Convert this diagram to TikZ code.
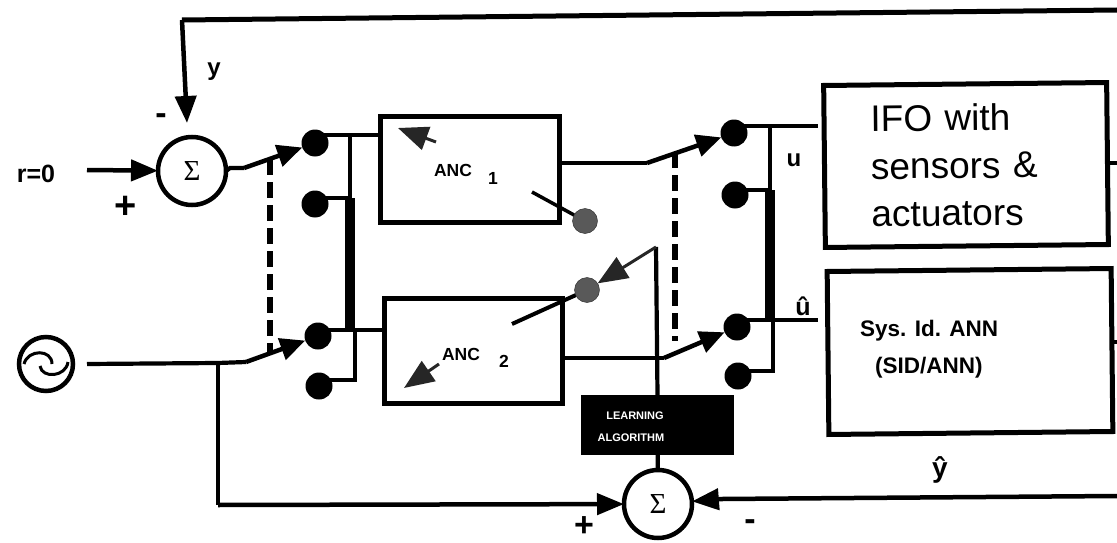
\documentclass[tikz,border=0pt]{standalone}
\usepackage{fontspec}
\setmainfont{Liberation Sans}
\newfontfamily\sumfont{Liberation Serif}
\usetikzlibrary{arrows.meta}

\begin{document}
\begin{tikzpicture}[x=1pt,y=-1pt]
            \tikzset{
                wire/.style={line width=4.2pt},
                bar/.style={line width=10pt},
                gang/.style={line width=6pt,dash pattern=on 16pt off 7pt},
                arm/.style={line width=4.5pt,-{Triangle[length=25pt,width=22pt]}},
                inlet/.style={line width=4.5pt,-{Triangle[length=27pt,width=21pt]}},
                tune/.style={line width=3pt,black!85,-{Triangle[length=30pt,width=24pt]}},
                sumnode/.style={circle,draw,line width=4.5pt,minimum size=68pt,inner sep=0pt,outer sep=0pt,font=\fontsize{29}{29}\sumfont},
                dot/.style={circle,fill=black,minimum size=27pt,inner sep=0pt,outer sep=0pt},
                graydot/.style={circle,fill=black!65,draw=black!85,minimum size=25pt,inner sep=0pt,outer sep=0pt},
                ancbox/.style={draw,line width=5pt,inner sep=0pt,outer sep=0pt},
                plantbox/.style={draw,line width=5pt,inner sep=0pt,outer sep=0pt,rotate=0.6},
                tag/.style={font=\fontsize{24}{24}\selectfont\bfseries,inner sep=0pt},
                small/.style={font=\fontsize{17.5}{17.5}\selectfont\bfseries,inner sep=0pt},
            }
            \def\sumsign{\raisebox{-5pt}{Σ}}
            \useasboundingbox (0,0) rectangle (1117,543);
            % blocks
            \node[sumnode] (sumA) at (192,171) {\sumsign};
            \node[sumnode] (sumB) at (658,504) {\sumsign};
            \node[circle,draw,line width=4.5pt,minimum size=54pt,inner sep=0pt] (source) at (46,364) {};
            \node[ancbox,minimum width=179pt,minimum height=106pt] (ancA) at (470,169) {};
            \node[ancbox,minimum width=178pt,minimum height=105pt] (ancB) at (473,350.5) {};
            \node[plantbox,minimum width=283pt,minimum height=162pt,text width=190pt,align=left,font=\fontsize{37}{47.5}\selectfont] (ifo) at (966,165) {IFO with\\sensors \&\\actuators};
            \node[plantbox,minimum width=284pt,minimum height=163pt] (sid) at (970,351.5) {};
            \node[fill=black,minimum width=153pt,minimum height=60pt,inner sep=0pt,outer sep=0pt] (learn) at (657.5,425) {};
            % switch contacts
            \node[dot] (dotA) at (315,143) {};
            \node[dot] (dotB) at (315,204) {};
            \node[dot] (dotC) at (318,336) {};
            \node[dot] (dotD) at (319,386) {};
            \node[dot] (dotE) at (734,133) {};
            \node[dot] (dotF) at (735,195) {};
            \node[dot] (dotG) at (737,327) {};
            \node[dot] (dotH) at (738,376) {};
            \node[graydot] (tuneA) at (585,221) {};
            \node[graydot] (tuneB) at (587,290) {};
            % free ends and corners
            \coordinate (topR) at (1117,10);
            \coordinate (topL) at (182,20);
            \coordinate (tipA) at (187,123);
            \coordinate (inR) at (87,170);
            \coordinate (armAa) at (244,168);
            \coordinate (armAb) at (230,168);
            \coordinate (armB) at (246,362);
            \coordinate (armC) at (647,163);
            \coordinate (armD) at (664,358);
            \coordinate (gangAa) at (270,159);
            \coordinate (gangAb) at (270,352);
            \coordinate (gangBa) at (675,152);
            \coordinate (gangBb) at (675,341);
            \coordinate (tapA) at (315,135);
            \coordinate (tapB) at (315,198);
            \coordinate (tapC) at (318,330);
            \coordinate (tapD) at (319,380);
            \coordinate (tapE) at (734,126);
            \coordinate (tapF) at (735,190);
            \coordinate (tapG) at (737,320);
            \coordinate (tapH) at (738,371);
            \coordinate (riserAa) at (350,135);
            \coordinate (riserAb) at (350,198);
            \coordinate (riserAc) at (350,328);
            \coordinate (riserAd) at (355,330);
            \coordinate (riserAe) at (355,380);
            \coordinate (riserBa) at (770,126);
            \coordinate (riserBb) at (770,190);
            \coordinate (riserBc) at (770,320);
            \coordinate (riserBd) at (773,320);
            \coordinate (riserBe) at (773,371);
            \coordinate (branch) at (218,363);
            \coordinate (branchB) at (218,505);
            \coordinate (fedB) at (722,499);
            \coordinate (fedR) at (1117,496);
            \coordinate (fedTip) at (1117,342);
            \coordinate (ifoTap) at (1117,163);
            \coordinate (kneeC) at (656,247);
            \coordinate (tailA) at (532,192);
            \coordinate (tailB) at (512,324);
            \coordinate (headAa) at (436,142);
            \coordinate (headAb) at (398,128);
            \coordinate (headBa) at (439,364);
            \coordinate (headBb) at (404,388);
            \coordinate (ifoOut) at (818,126);
            \coordinate (sidOut) at (818,320);
            % feedback
            \draw[line width=5pt] (topR) -- (topL);
            \draw[inlet] (topL) -- (tipA);
            \draw[inlet] (inR) -- (sumA);
            \draw[wire] (ifo.east |- ifoTap) -- (ifoTap);
            \draw[wire] (sid.east |- fedTip) -- (fedTip);
            \draw[line width=4.5pt] (fedR) -- (fedB);
            \draw[inlet] (fedB) -- (sumB);
            % signal paths
            \draw[wire] (sumA.east) -- (armAb) -- (armAa);
            \draw[arm] (armAa) -- (dotA);
            \draw[wire] (tapA) -- (ancA.west |- tapA);
            \draw[wire] (riserAa) -- (riserAb);
            \draw[wire] (tapB) -- (riserAb);
            \draw[bar] (riserAb) -- (riserAc);
            \draw[wire] (tapC) -- (ancB.west |- tapC);
            \draw[wire] (tapD) -- (riserAe) -- (riserAd);
            \draw[wire] (source.east -| inR) -- (branch) -- (armB);
            \draw[arm] (armB) -- (dotC);
            \draw[wire] (branch) -- (branchB);
            \draw[inlet] (branchB) -- (sumB);
            \draw[wire] (ancA.east |- armC) -- (armC);
            \draw[arm] (armC) -- (dotE);
            \draw[wire] (ancB.east |- armD) -- (armD);
            \draw[arm] (armD) -- (dotG);
            \draw[wire] (tapE) -- (ifoOut);
            \draw[wire] (riserBa) -- (riserBb);
            \draw[wire] (tapF) -- (riserBb);
            \draw[bar] (riserBb) -- (riserBc);
            \draw[wire] (tapG) -- (sidOut);
            \draw[wire] (tapH) -- (riserBe) -- (riserBd);
            \draw[gang] (gangAa) -- (gangAb);
            \draw[gang] (gangBa) -- (gangBb);
            % adaptation
            \draw[wire] (sumB) -- (learn);
            \draw[wire] (learn.north) -- (kneeC);
            \draw[tune] (kneeC) -- (tuneB);
            \draw[line width=4pt] (tailB) -- (tuneB);
            \draw[line width=3.5pt] (tailA) -- (tuneA);
            \draw[tune] (headAa) -- (headAb);
            \draw[tune] (headBa) -- (headBb);
            % source wave
            \begin{scope}[shift={(46,364)}]
                \draw[line width=3pt] (-22,0) .. controls (-18,-15) and (6,-15) .. (6,0);
                \draw[line width=3pt] (-6,2) .. controls (-4,15) and (20,13) .. (22,-2);
            \end{scope}
            % labels
            \node[tag,font=\fontsize{25}{25}\selectfont\bfseries] (labelR) at (36,174) {r=0};
            \node[tag] (labelY) at (214,72) {y};
            \node[tag] (labelU) at (794,160) {u};
            \node[tag,font=\fontsize{25}{25}\selectfont\bfseries] (labelUhat) at (803,306) {\^{u}};
            \node[tag,font=\fontsize{28}{28}\selectfont\bfseries] (labelYhat) at (940,470) {\^{y}};
            \node[tag,font=\fontsize{38}{38}\selectfont\bfseries] (plusA) at (126,207) {+};
            \node[tag,font=\fontsize{34}{34}\selectfont\bfseries] (plusB) at (584,527) {+};
            \node[tag,font=\fontsize{34}{34}\selectfont\bfseries] (minusA) at (161,119) {-};
            \node[tag,font=\fontsize{34}{34}\selectfont\bfseries] (minusB) at (750,525) {-};
            \node[small] (textA) at (453,170) {ANC};
            \node[small] (subA) at (493,178) {1};
            \node[small] (textB) at (461,354) {ANC};
            \node[small] (subB) at (504,361) {2};
            \node[anchor=base west,align=left,inner sep=0pt,font=\fontsize{22.5}{37}\selectfont\bfseries] (textSid) at (860,373) {Sys. Id. ANN\\\hspace*{15pt}(SID/ANN)};
            \node[white,inner sep=0pt,font=\fontsize{11}{11}\selectfont\bfseries] (textL) at (635,416) {LEARNING};
            \node[white,inner sep=0pt,font=\fontsize{11}{11}\selectfont\bfseries] (textM) at (631,438) {ALGORITHM};
        \end{tikzpicture}
\end{document}
